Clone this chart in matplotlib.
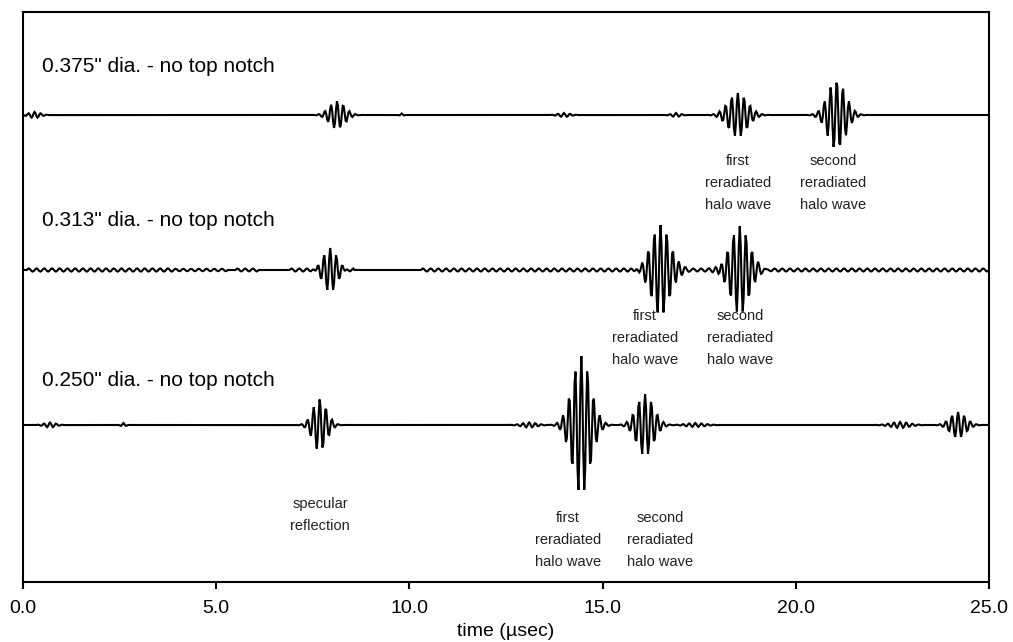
import numpy as np
import matplotlib
matplotlib.use("Agg")
import matplotlib.pyplot as plt

plt.rcParams['font.family'] = ['Liberation Sans', 'DejaVu Sans']

# ---------------- data ----------------
x_ticks = [0.0, 5.0, 10.0, 15.0, 20.0, 25.0]
x_tick_labels = ["0.0", "5.0", "10.0", "15.0", "20.0", "25.0"]

trace_labels = ['0.375" dia. - no top notch',
                '0.313" dia. - no top notch',
                '0.250" dia. - no top notch']
trace_offsets = [0, -155, -310]
carrier_mhz = 6.3

# wave packets: centre time (usec), peak amplitude, envelope width (usec)
t1_centres = [0.30, 8.13, 9.80, 14.00, 16.90, 18.50, 21.06]
t1_amps = [3.0, 14.0, 1.5, 2.0, 2.0, 22.0, 35.0]
t1_widths = [0.15, 0.20, 0.04, 0.15, 0.12, 0.25, 0.23]

t2_centres = [7.95, 16.50, 18.55]
t2_amps = [22.0, 45.0, 44.0]
t2_widths = [0.18, 0.25, 0.25]
# low-level ripple segments on the 0.313" trace: start, end (usec), amplitude
t2_noise_start = [0.10, 3.90, 5.50, 6.90, 8.30, 10.30, 16.90, 19.00]
t2_noise_end = [3.90, 5.30, 6.10, 7.60, 8.55, 16.00, 18.10, 25.00]
t2_noise_amp = [1.6, 1.2, 1.4, 1.5, 1.5, 1.5, 1.5, 1.5]

t3_centres = [0.70, 2.60, 7.68, 13.10, 14.45, 16.10, 17.40, 22.70, 24.20]
t3_amps = [2.5, 2.0, 26.0, 2.5, 69.0, 31.0, 2.0, 3.0, 13.0]
t3_widths = [0.15, 0.06, 0.18, 0.20, 0.24, 0.22, 0.25, 0.25, 0.20]

annotations = ["first\nreradiated\nhalo wave", "second\nreradiated\nhalo wave",
               "first\nreradiated\nhalo wave", "second\nreradiated\nhalo wave",
               "specular\nreflection",
               "first\nreradiated\nhalo wave", "second\nreradiated\nhalo wave"]
annot_x = [18.50, 20.96, 16.10, 18.56, 7.69, 14.10, 16.49]
annot_y = [-68, -68, -223, -223, -400, -425, -425]

# ---------------- build traces ----------------
t = np.arange(0, 25.0001, 0.025)


def packets(centres, amps, widths):
    y = np.zeros_like(t)
    for c, a, w in zip(centres, amps, widths):
        y += a * np.exp(-0.5 * ((t - c) / w) ** 2) * np.cos(2 * np.pi * carrier_mhz * (t - c))
    return y


y1 = packets(t1_centres, t1_amps, t1_widths)
y2 = packets(t2_centres, t2_amps, t2_widths)
for s, e, a in zip(t2_noise_start, t2_noise_end, t2_noise_amp):
    m = (t >= s) & (t <= e)
    y2[m] += a * np.sin(2 * np.pi * 5.0 * (t[m] - s))
y3 = packets(t3_centres, t3_amps, t3_widths)

# ---------------- plot ----------------
fig = plt.figure(figsize=(10.13, 6.42), dpi=100)
ax = fig.add_axes([23 / 1013, 1 - 582 / 642, 966 / 1013, 570 / 642])

for y, off in zip([y1, y2, y3], trace_offsets):
    ax.plot(t, y + off, color="black", lw=1.5, solid_joinstyle="miter")

label_y = [49, -106, -266]
for lab, ly in zip(trace_labels, label_y):
    ax.text(0.49, ly, lab, fontsize=15, ha="left", va="center")

for txt, x, y in zip(annotations, annot_x, annot_y):
    ax.text(x, y, txt, fontsize=10.5, ha="center", va="center", linespacing=1.75,
            color="#222222")

ax.set_xlim(0, 25)
ax.set_ylim(-467, 103)
ax.set_xticks(x_ticks)
ax.set_xticklabels(x_tick_labels)
ax.set_yticks([])
ax.tick_params(axis="x", direction="out", length=5, width=1.5, labelsize=14, pad=8)
for sp in ax.spines.values():
    sp.set_linewidth(1.5)
ax.set_xlabel("time (\u00b5sec)", fontsize=14, labelpad=4)

fig.savefig("out.png", dpi=100)
